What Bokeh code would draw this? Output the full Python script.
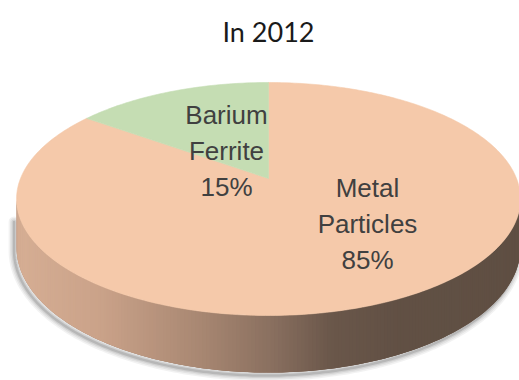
import numpy as np
from bokeh.plotting import figure
from bokeh.models import Range1d
from bokeh.core.properties import value
from bokeh.embed import file_html
from bokeh.resources import INLINE

# ---- data -------------------------------------------------------------
title = "In 2012"
categories = ["Metal Particles", "Barium Ferrite"]
shares = [85, 15]

# ---- layout / style ---------------------------------------------------
W, H = 519, 380
CX, CY = 268.0, 178.0      # projected pie centre
RX, RY = 248.0, 112.9      # disc radii before perspective
K = 0.176                  # perspective strength (back of disc smaller)
DEPTH = 47.0               # disc thickness
top_colors = {"Metal Particles": "#F5C9AA", "Barium Ferrite": "#C5DDB3"}
label_anchor = {"Metal Particles": (367, 187), "Barium Ferrite": (226, 114)}
LINE_STEP = 36
LABEL_FONT = "Liberation Sans"
LABEL_COLOR = "#404040"

# side shading: x position -> rgb
side_stops_x = [16, 100, 200, 270, 330, 400, 520]
side_stops_rgb = [(214, 174, 148), (202, 162, 137), (168, 135, 114),
                  (138, 112, 96), (106, 87, 74), (97, 80, 68), (95, 79, 67)]


def project(phi, r=1.0, drop=0.0):
    """Map a point of the disc (angle clockwise from the back, radius
    fraction r) to the page with a simple perspective."""
    phi = np.asarray(phi, dtype=float)
    u = r * np.sin(phi)
    v = r * np.cos(phi)
    s = 1.0 / (1.0 + K * v)
    return CX + RX * s * u, CY - RY * s * v + drop * s


def side_color(x):
    rgb = [np.interp(x, side_stops_x, [c[i] for c in side_stops_rgb]) for i in range(3)]
    return "#%02x%02x%02x" % tuple(int(round(c)) for c in rgb)


p = figure(width=W, height=H, x_range=Range1d(0, W), y_range=Range1d(H, 0),
           output_backend="svg", toolbar_location=None, min_border=0)
p.axis.visible = False
p.grid.visible = False
p.outline_line_color = None
p.background_fill_color = "white"
p.border_fill_color = "white"

# visible part of the cylinder wall
phi_r = np.arccos(-K)
phi_l = 2 * np.pi - phi_r
arc = np.linspace(phi_r, phi_l, 220)

# soft shadow under the wall
bx, by = project(arc, drop=DEPTH)
tlx, tly = project(phi_l)
sx = np.concatenate([bx, [tlx]]) - 2.5
sy = np.concatenate([by, [tly + 20]]) + 3.0
for w, a in [(11, 0.05), (8, 0.06), (5, 0.08), (2.5, 0.12)]:
    p.line(sx, sy, line_width=w, line_alpha=a, line_color="black",
           line_join="round", line_cap="round")

# wall base in one piece, then shaded strips that overlap their neighbour
tx, ty = project(arc)
p.patch(np.concatenate([tx, bx[::-1]]), np.concatenate([ty, by[::-1]]),
        fill_color=side_color(270), line_color=None)
xs_list, ys_list, cols = [], [], []
for i in range(len(arc) - 1):
    a0 = arc[i]
    a1 = arc[min(i + 2, len(arc) - 1)]
    x0, y0 = project(a0)
    x1, y1 = project(a1)
    x0b, y0b = project(a0, drop=DEPTH)
    x1b, y1b = project(a1, drop=DEPTH)
    xs_list.append([x0, x1, x1b, x0b])
    ys_list.append([y0, y1, y1b, y0b])
    xm, _ = project(arc[i] + 0.5 * (arc[1] - arc[0]))
    cols.append(side_color(xm))
p.patches(xs_list, ys_list, fill_color=cols, line_color=None)

# top face slices, clockwise from 12 o'clock
total = float(sum(shares))
start = 0.0
for cat, val in zip(categories, shares):
    end = start + val / total * 2 * np.pi
    ang = np.linspace(start, end, max(int(val * 4), 8))
    ax, ay = project(ang)
    px = np.concatenate([[CX], ax])
    py = np.concatenate([[CY], ay])
    c = top_colors[cat]
    p.patch(px, py, fill_color=c, line_color=c, line_width=0.6)
    start = end

# slice labels
for cat, val in zip(categories, shares):
    lines = cat.split() + [f"{val}%"]
    lx, ly = label_anchor[cat]
    p.text(x=[lx] * len(lines), y=[ly + i * LINE_STEP for i in range(len(lines))],
           text=lines, text_font=value(LABEL_FONT), text_font_size="26px",
           text_color=LABEL_COLOR, text_align="center", text_baseline="alphabetic")

# title
p.text(x=[CX], y=[31], text=[title], text_font=value("Lato"),
       text_font_size="27px", text_color="#1a1a1a",
       text_align="center", text_baseline="alphabetic")

open("out.html", "w").write(file_html(p, INLINE))
